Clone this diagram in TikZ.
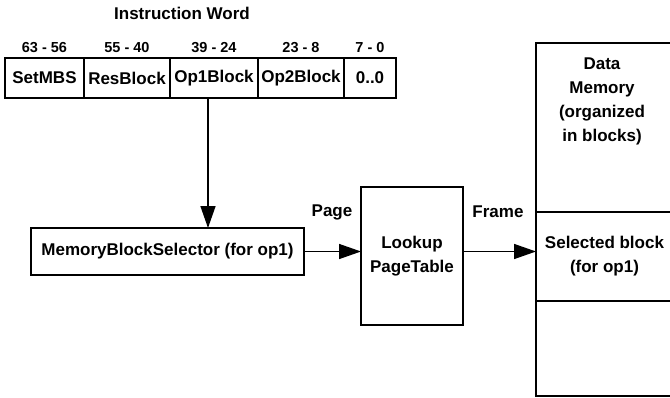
\documentclass[tikz,border=0pt]{standalone}
\usepackage{fontspec}
\setmainfont{Liberation Sans}
\usetikzlibrary{positioning,arrows.meta}

\begin{document}
\begin{tikzpicture}[x=1pt, y=-1pt, line width=1.5pt, >={Triangle[length=22pt, width=15pt]},
	font=\bfseries\fontsize{17}{24}\selectfont,
	field/.style={draw, minimum height=40pt, inner sep=0pt, outer sep=0pt},
	bitlbl/.style={inner sep=0pt, font=\bfseries\fontsize{14.5}{16}\selectfont},
	box/.style={draw, inner sep=0pt, outer sep=0pt, align=center}]
	\clip (0, 0) rectangle (670, 397);

	% Instruction word
	\node (title) at (182, 13) {Instruction Word};
	\node[field, minimum width=79pt, anchor=west] (setmbs) at (5, 78) {SetMBS};
	\node[field, minimum width=86pt, right=0pt of setmbs] (resblk) {ResBlock};
	\node[field, minimum width=88pt, right=0pt of resblk] (opone) {Op1Block};
	\node[field, minimum width=86pt, right=0pt of opone] (optwo) {Op2Block};
	\node[field, minimum width=52pt, right=0pt of optwo] (zeros) {0..0};

	% Bit ranges
	\node[bitlbl, above=5pt of setmbs] (bsetmbs) {63 - 56};
	\node[bitlbl, above=5pt of resblk] (bresblk) {55 - 40};
	\node[bitlbl, above=5pt of opone] (bopone) {39 - 24};
	\node[bitlbl, above=5pt of optwo] (boptwo) {23 - 8};
	\node[bitlbl, above=5pt of zeros] (bzeros) {7 - 0};

	% Selector and page table
	\node[box, minimum width=273pt, minimum height=47pt] (sel) at (167.5, 251.5) {MemoryBlockSelector (for op1)};
	\node[box, minimum width=102pt, minimum height=138pt] (look) at (412, 256) {Lookup\\PageTable};

	% Data memory
	\node[box, minimum width=137pt, minimum height=353pt] (mem) at (604.5, 219.5) {};
	\node[align=center, inner sep=0pt] (memtxt) at (602, 101) {Data\\Memory\\(organized\\in blocks)};
	\node[box, minimum width=137pt, minimum height=89pt] (blk) at (604.5, 256.5) {Selected block\\(for op1)};

	% Connectors
	\draw[->] ([xshift=-6pt]opone.south) -- ([xshift=-6pt]opone.south |- sel.north);
	\draw[->] (sel.east) -- (sel.east -| look.west);
	\draw[->] (sel.east -| look.east) -- (sel.east -| mem.west);
	\node (page) at (332, 212) {Page};
	\node (frame) at (498, 212) {Frame};
\end{tikzpicture}
\end{document}
